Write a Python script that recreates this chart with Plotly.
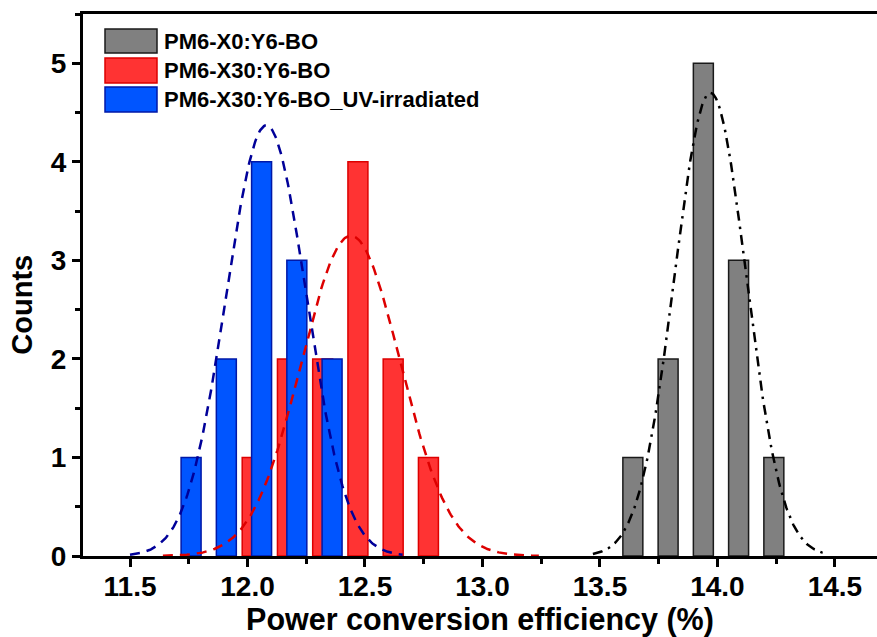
import numpy as np
import plotly.graph_objects as go

# Histogram of device efficiencies (bin centres in %, counts per bin)
labels = ["PM6-X0:Y6-BO", "PM6-X30:Y6-BO", "PM6-X30:Y6-BO_UV-irradiated"]

x0_pce = [13.64, 13.79, 13.94, 14.09, 14.24]
x0_counts = [1, 2, 5, 3, 1]

x30_pce = [12.02, 12.17, 12.32, 12.47, 12.62, 12.77]
x30_counts = [1, 2, 2, 4, 2, 1]

uv_pce = [11.76, 11.91, 12.06, 12.21, 12.36]
uv_counts = [1, 2, 4, 3, 2]

# Normal-distribution fits: (centre, sigma, peak height, half span drawn)
x0_fit = (13.97, 0.152, 4.70, 0.50)
x30_fit = (12.44, 0.21, 3.25, 0.80)
uv_fit = (12.08, 0.17, 4.37, 0.58)

x_ticks = [11.5, 12.0, 12.5, 13.0, 13.5, 14.0, 14.5]
y_ticks = [0, 1, 2, 3, 4, 5]

FONT = "Arial, 'Liberation Sans', Helvetica, sans-serif"

styles = {
    labels[0]: dict(fill="#808080", edge="#1a1a1a", curve="#000000", dash="10px,6px,2.5px,6px"),
    labels[1]: dict(fill="#ff3333", edge="#dd0000", curve="#dd0000", dash="10px,7px"),
    labels[2]: dict(fill="#0055ff", edge="#0018a8", curve="#000099", dash="10px,7px"),
}

series = [
    (labels[0], x0_pce, x0_counts, x0_fit),
    (labels[1], x30_pce, x30_counts, x30_fit),
    (labels[2], uv_pce, uv_counts, uv_fit),
]


def fit_curve(params):
    mu, sigma, peak, span = params
    xs = np.linspace(mu - span, mu + span, 300)
    ys = peak * np.exp(-((xs - mu) ** 2) / (2 * sigma ** 2))
    return xs, ys


fig = go.Figure()

for name, xs, counts, _ in series:
    st = styles[name]
    fig.add_trace(go.Bar(
        x=xs, y=counts, width=0.085, name=name, showlegend=False,
        marker=dict(color=st["fill"], line=dict(color=st["edge"], width=1.5)),
    ))

for name, _, _, params in series:
    st = styles[name]
    cx, cy = fit_curve(params)
    fig.add_trace(go.Scatter(
        x=cx, y=cy, mode="lines", showlegend=False, hoverinfo="skip",
        line=dict(color=st["curve"], width=2.5, dash=st["dash"]),
    ))

# Plot-area geometry in pixels, used to place the legend block
L, R, T, B = 83, 877, 14, 556
pw, ph = R - L, B - T


def px(xp):
    return (xp - L) / pw


def py(yp):
    return (B - yp) / ph


legend_rows = [(29, 53), (58, 83), (87, 112)]
for name, (top, bot) in zip(labels, legend_rows):
    st = styles[name]
    fig.add_shape(type="rect", xref="paper", yref="paper",
                  x0=px(105), x1=px(157), y0=py(bot), y1=py(top),
                  fillcolor=st["fill"], line=dict(color=st["edge"], width=1.5))
    fig.add_annotation(xref="paper", yref="paper", x=px(162), y=py((top + bot) / 2),
                       text=name, showarrow=False, xanchor="left", yanchor="middle",
                       font=dict(family=FONT, size=22, color="black", weight="bold"))

fig.add_annotation(xref="paper", yref="y", x=px(22), y=2.55, text="Counts",
                   textangle=-90, showarrow=False, xanchor="center", yanchor="middle",
                   font=dict(family=FONT, size=29, color="black", weight="bold"))

tick_font = dict(family=FONT, size=28, color="black", weight="bold")

fig.update_xaxes(
    range=[11.3, 14.679], tickvals=x_ticks, ticktext=[f"{v:.1f}" for v in x_ticks],
    ticks="outside", ticklen=8, tickwidth=3, tickcolor="black", ticklabelstandoff=-5,
    minor=dict(tick0=11.25, dtick=0.25, ticks="outside", ticklen=5, tickwidth=2.5, tickcolor="black"),
    showline=True, linewidth=3, linecolor="black", mirror=True,
    showgrid=False, zeroline=False, tickfont=tick_font,
    title=dict(text="Power conversion efficiency (%)", standoff=9,
               font=dict(family=FONT, size=30.5, color="black", weight="bold")),
)
fig.update_yaxes(
    range=[0, 5.5], tickvals=y_ticks,
    ticks="outside", ticklen=8, tickwidth=3, tickcolor="black",
    minor=dict(tick0=0, dtick=0.5, ticks="outside", ticklen=5, tickwidth=2.5, tickcolor="black"),
    showline=True, linewidth=3, linecolor="black",
    showgrid=False, zeroline=False, tickfont=tick_font,
)

fig.update_layout(
    width=877, height=637, barmode="overlay",
    margin=dict(l=L, r=877 - R, t=T, b=637 - B),
    plot_bgcolor="white", paper_bgcolor="white", showlegend=False,
)

fig.write_html("out.html")
